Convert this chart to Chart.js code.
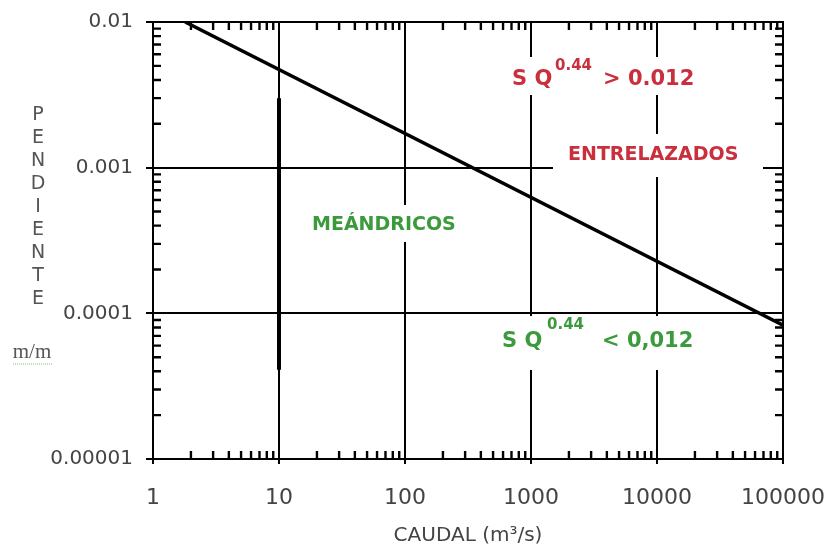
<!DOCTYPE html>
<html>
<head>
<meta charset="utf-8">
<script src="https://cdn.jsdelivr.net/npm/chart.js@4.4.1/dist/chart.umd.min.js"></script>
<style>
  html, body { margin: 0; padding: 0; background: #ffffff; }
  #wrap { width: 828px; height: 549px; position: relative; }
</style>
</head>
<body>
<div id="wrap"><canvas id="c" width="828" height="549"></canvas></div>
<script>
// ---- data ----
const xTickValues = [1, 10, 100, 1000, 10000, 100000];
const xTickLabels = ['1', '10', '100', '1000', '10000', '100000'];
const yTickValues = [0.00001, 0.0001, 0.001, 0.01];
const yTickLabels = ['0.00001', '0.0001', '0.001', '0.01'];

// boundary line S·Q^0.44 = 0.012 (end points)
const boundaryQ = [1.8, 100000];
const boundaryS = [0.0100, 0.000083];

// thick stroke drawn over the Q = 10 grid line
const thickQ = [10, 10];
const thickS = [0.0030, 0.000041];

const yTitleLetters = ['P', 'E', 'N', 'D', 'I', 'E', 'N', 'T', 'E'];

const RED = '#c92f3c';
const GREEN = '#3b9a3b';
const FONT = '"DejaVu Sans", Arial, sans-serif';

function minorValues(lo, hi) {
  const out = [];
  for (let e = Math.round(Math.log10(lo)); e < Math.round(Math.log10(hi)); e++) {
    for (let k = 1; k <= 9; k++) out.push(k * Math.pow(10, e));
  }
  out.push(hi);
  return out;
}
function isDecade(v, list) {
  return list.some(t => Math.abs(Math.log10(v) - Math.log10(t)) < 1e-6);
}

const boundaryData = boundaryQ.map((q, i) => ({ x: q, y: boundaryS[i] }));
const thickData = thickQ.map((q, i) => ({ x: q, y: thickS[i] }));

const decor = {
  id: 'decor',
  beforeDatasetsDraw(chart) {
    const ctx = chart.ctx;
    ctx.save();
    ctx.fillStyle = '#ffffff';
    // white backgrounds behind the region labels (they interrupt the grid)
    ctx.fillRect(505, 57, 185, 38);
    ctx.fillRect(553, 134, 210, 43);
    ctx.fillRect(300, 205, 165, 37);
    ctx.fillRect(495, 316, 200, 54);
    ctx.restore();
  },
  afterDatasetsDraw(chart) {
    const ctx = chart.ctx;
    const a = chart.chartArea;
    const xs = chart.scales.x, ys = chart.scales.y;
    ctx.save();
    ctx.strokeStyle = '#000';
    ctx.lineWidth = 2;
    // frame
    ctx.strokeRect(a.left, a.top, a.right - a.left, a.bottom - a.top);
    // inward minor ticks
    const tl = 8;
    ctx.lineWidth = 2.4;
    xs.ticks.forEach(t => {
      if (isDecade(t.value, xTickValues)) return;
      const px = xs.getPixelForValue(t.value);
      ctx.beginPath();
      ctx.moveTo(px, a.bottom); ctx.lineTo(px, a.bottom - tl);
      ctx.moveTo(px, a.top); ctx.lineTo(px, a.top + tl);
      ctx.stroke();
    });
    ys.ticks.forEach(t => {
      if (isDecade(t.value, yTickValues)) return;
      const py = ys.getPixelForValue(t.value);
      ctx.beginPath();
      ctx.moveTo(a.left, py); ctx.lineTo(a.left + tl, py);
      ctx.moveTo(a.right, py); ctx.lineTo(a.right - tl, py);
      ctx.stroke();
    });

    // y axis title, stacked letters
    ctx.fillStyle = '#555';
    ctx.font = '19px ' + FONT;
    ctx.textAlign = 'center';
    ctx.textBaseline = 'middle';
    yTitleLetters.forEach((ch, i) => ctx.fillText(ch, 38, 115 + i * 23));
    ctx.font = '21px "Liberation Serif", serif';
    ctx.fillStyle = '#555';
    ctx.fillText('m/m', 32, 352);
    ctx.strokeStyle = '#7fbf7f';
    ctx.lineWidth = 1;
    ctx.setLineDash([1, 1]);
    ctx.beginPath(); ctx.moveTo(13, 364); ctx.lineTo(52, 364); ctx.stroke();
    ctx.setLineDash([]);

    // region labels
    ctx.textAlign = 'left';
    ctx.textBaseline = 'middle';
    ctx.fillStyle = RED;
    ctx.font = 'bold 21px ' + FONT;
    ctx.fillText('S Q', 512, 80);
    ctx.font = 'bold 15px ' + FONT;
    ctx.fillText('0.44', 555, 66);
    ctx.font = 'bold 21px ' + FONT;
    ctx.fillText('> 0.012', 603, 80);
    ctx.font = 'bold 19px ' + FONT;
    ctx.fillText('ENTRELAZADOS', 568, 155);

    ctx.fillStyle = GREEN;
    ctx.font = 'bold 19px ' + FONT;
    ctx.fillText('MEÁNDRICOS', 312, 225);
    ctx.font = 'bold 21px ' + FONT;
    ctx.fillText('S Q', 502, 342);
    ctx.font = 'bold 15px ' + FONT;
    ctx.fillText('0.44', 547, 325);
    ctx.font = 'bold 21px ' + FONT;
    ctx.fillText('< 0,012', 602, 342);
    ctx.restore();
  }
};

new Chart(document.getElementById('c'), {
  type: 'scatter',
  data: {
    datasets: [
      {
        label: 'S Q^0.44 = 0.012',
        data: boundaryData,
        showLine: true,
        borderColor: '#000',
        borderWidth: 3.5,
        pointRadius: 0,
        tension: 0
      },
      {
        label: 'Q = 10',
        data: thickData,
        showLine: true,
        borderColor: '#000',
        borderWidth: 4,
        pointRadius: 0
      }
    ]
  },
  options: {
    responsive: false,
    animation: false,
    events: [],
    layout: { padding: { top: 22, right: 45, left: 0, bottom: 0 } },
    plugins: { legend: { display: false }, tooltip: { enabled: false } },
    scales: {
      x: {
        type: 'logarithmic',
        min: 1,
        max: 100000,
        afterFit(s) { s.height = 90; s.paddingLeft = 0; s.paddingRight = 0; },
        afterBuildTicks(s) { s.ticks = minorValues(1, 100000).map(v => ({ value: v })); },
        border: { display: true, color: '#000', width: 2 },
        grid: {
          lineWidth: 2,
          color: c => (c.tick && isDecade(c.tick.value, xTickValues)) ? '#000' : 'rgba(0,0,0,0)',
          tickColor: c => (c.tick && isDecade(c.tick.value, xTickValues)) ? '#000' : 'rgba(0,0,0,0)',
          drawTicks: true,
          tickLength: 5
        },
        ticks: {
          autoSkip: false,
          maxRotation: 0,
          padding: 21,
          color: '#444',
          font: { family: FONT, size: 22 },
          callback: v => {
            const i = xTickValues.findIndex(t => Math.abs(Math.log10(t) - Math.log10(v)) < 1e-6);
            return i >= 0 ? xTickLabels[i] : '';
          }
        },
        title: {
          display: true,
          text: 'CAUDAL (m³/s)',
          color: '#444',
          font: { family: FONT, size: 20 },
          padding: { top: 0, bottom: 1 }
        }
      },
      y: {
        type: 'logarithmic',
        min: 0.00001,
        max: 0.01,
        afterFit(s) { s.width = 153; s.paddingTop = 0; s.paddingBottom = 0; },
        afterBuildTicks(s) { s.ticks = minorValues(0.00001, 0.01).map(v => ({ value: v })); },
        border: { display: true, color: '#000', width: 2 },
        grid: {
          lineWidth: 2,
          color: c => (c.tick && isDecade(c.tick.value, yTickValues)) ? '#000' : 'rgba(0,0,0,0)',
          tickColor: c => (c.tick && isDecade(c.tick.value, yTickValues)) ? '#000' : 'rgba(0,0,0,0)',
          drawTicks: true,
          tickLength: 7
        },
        ticks: {
          autoSkip: false,
          padding: 13,
          color: '#444',
          font: { family: FONT, size: 20 },
          callback: v => {
            const i = yTickValues.findIndex(t => Math.abs(Math.log10(t) - Math.log10(v)) < 1e-6);
            return i >= 0 ? yTickLabels[i] : '';
          }
        }
      }
    }
  },
  plugins: [decor]
});
</script>
</body>
</html>
